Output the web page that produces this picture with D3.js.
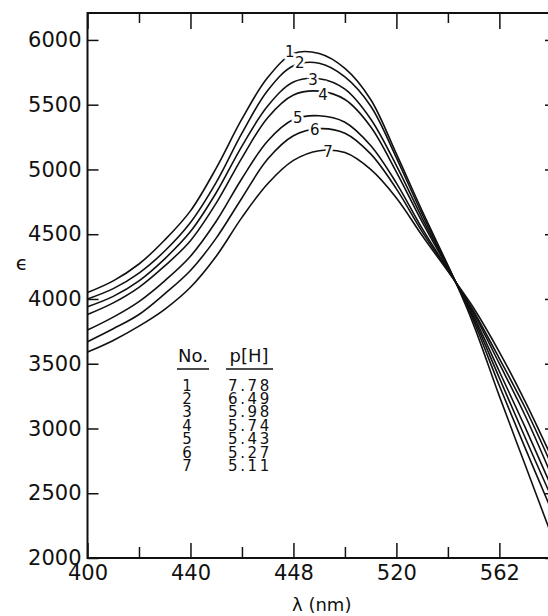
<!DOCTYPE html>
<html>
<head>
<meta charset="utf-8">
<script src="https://cdn.jsdelivr.net/npm/d3@7"></script>
<style>
  body { margin: 0; background: #fff; }
  text { font-family: "DejaVu Sans", sans-serif; fill: #111; }
</style>
</head>
<body>
<div class="chart"></div>
<script>
// wavelengths (nm) at which the curves were read
const lambda = [400, 410, 420, 430, 440, 450, 460, 470, 480, 490, 500, 510, 520, 530, 543, 550, 560, 570, 580];
// epsilon values for the 7 curves
const curve1 = [4050, 4140, 4270, 4455, 4680, 5010, 5390, 5710, 5895, 5895, 5780, 5540, 5120, 4680, 4131, 3800, 3250, 2720, 2190];
const curve2 = [4000, 4080, 4200, 4370, 4590, 4900, 5280, 5610, 5800, 5820, 5715, 5490, 5090, 4655, 4131, 3830, 3330, 2850, 2380];
const curve3 = [3940, 4020, 4140, 4310, 4520, 4820, 5180, 5490, 5675, 5700, 5620, 5390, 5030, 4625, 4131, 3850, 3390, 2930, 2480];
const curve4 = [3880, 3970, 4090, 4255, 4450, 4740, 5090, 5400, 5575, 5605, 5540, 5330, 4980, 4595, 4131, 3870, 3440, 3010, 2560];
const curve5 = [3760, 3860, 3980, 4140, 4330, 4600, 4930, 5220, 5385, 5415, 5365, 5185, 4895, 4545, 4131, 3890, 3500, 3100, 2650];
const curve6 = [3670, 3770, 3880, 4040, 4220, 4470, 4780, 5080, 5260, 5315, 5280, 5120, 4850, 4520, 4131, 3905, 3540, 3160, 2730];
const curve7 = [3590, 3680, 3790, 3920, 4090, 4330, 4630, 4890, 5070, 5145, 5130, 5000, 4780, 4490, 4131, 3930, 3590, 3210, 2790];
const curves = [curve1, curve2, curve3, curve4, curve5, curve6, curve7];

// where the curve numbers sit
const labelNo = ["1", "2", "3", "4", "5", "6", "7"];
const labelLambda = [478.6, 482.5, 487.6, 491.5, 481.7, 488.3, 493.4];
const labelEps = [5910, 5822, 5691, 5575, 5398, 5305, 5135];

// legend table
const tableNo = ["1", "2", "3", "4", "5", "6", "7"];
const tablePH = ["7.78", "6.49", "5.98", "5.74", "5.43", "5.27", "5.11"];

// axis ticks (printed labels as in the figure)
const xMajor = [400, 440, 480, 520, 560, 580];
const xMinor = [420, 460, 500, 540];
const xTickLabels = ["400", "440", "448", "520", "562", ""];
const yTicks = [2000, 2500, 3000, 3500, 4000, 4500, 5000, 5500, 6000];

const W = 548, H = 616;
const plotL = 87.5, plotR = 556, plotT = 13, plotB = 558;

const x = d3.scaleLinear().domain([400, 582]).range([plotL, plotR]);
const y = d3.scaleLinear().domain([2000, 6208]).range([plotB, plotT]);

const svg = d3.select(".chart").append("svg")
    .attr("width", W)
    .attr("height", H);

// frame
svg.append("rect")
    .attr("x", plotL).attr("y", plotT)
    .attr("width", plotR - plotL).attr("height", plotB - plotT)
    .attr("fill", "none").attr("stroke", "#111").attr("stroke-width", 2);

// bottom axis
const xAxis = d3.axisBottom(x).tickValues(xMajor).tickSize(-15).tickSizeOuter(0).tickPadding(7)
    .tickFormat((d, i) => xTickLabels[i]);
const gx = svg.append("g").attr("transform", `translate(0,${plotB})`).call(xAxis);
gx.select(".domain").remove();
gx.selectAll("text").style("font-size", "21px");
svg.append("g").attr("transform", `translate(0,${plotB})`)
    .call(d3.axisBottom(x).tickValues(xMinor).tickSize(-11).tickFormat(""))
    .select(".domain").remove();

// top axis
svg.append("g").attr("transform", `translate(0,${plotT})`)
    .call(d3.axisTop(x).tickValues(xMajor).tickSize(-16).tickFormat(""))
    .select(".domain").remove();
svg.append("g").attr("transform", `translate(0,${plotT})`)
    .call(d3.axisTop(x).tickValues(xMinor).tickSize(-10).tickFormat(""))
    .select(".domain").remove();

// left axis
const gy = svg.append("g").attr("transform", `translate(${plotL},0)`)
    .call(d3.axisLeft(y).tickValues(yTicks).tickSize(-11).tickPadding(6).tickFormat(d3.format("d")));
gy.select(".domain").remove();
gy.selectAll("text").style("font-size", "21px");

// right axis
svg.append("g").attr("transform", `translate(${plotR},0)`)
    .call(d3.axisRight(y).tickValues(yTicks).tickSize(-11).tickFormat(""))
    .select(".domain").remove();

svg.selectAll(".tick line").attr("stroke", "#111").attr("stroke-width", 1.5);

// curves
const line = d3.line()
    .x((d, i) => x(lambda[i]))
    .y(d => y(d))
    .curve(d3.curveCatmullRom);

svg.append("g")
    .selectAll("path")
    .data(curves)
    .join("path")
    .attr("d", line)
    .attr("fill", "none")
    .attr("stroke", "#111")
    .attr("stroke-width", 1.6);

// curve numbers
svg.append("g")
    .selectAll("text")
    .data(labelNo)
    .join("text")
    .attr("x", (d, i) => x(labelLambda[i]))
    .attr("y", (d, i) => y(labelEps[i]))
    .attr("dy", "0.36em")
    .attr("text-anchor", "middle")
    .style("font-size", "15px")
    .style("paint-order", "stroke")
    .attr("stroke", "#fff")
    .attr("stroke-width", 5)
    .text(d => d);

// legend table
const lg = svg.append("g");
lg.append("text").attr("x", 193).attr("y", 362).attr("text-anchor", "middle")
    .style("font-size", "18px").text("No.");
lg.append("text").attr("x", 249).attr("y", 362).attr("text-anchor", "middle")
    .style("font-size", "18px").text("p[H]");
lg.append("line").attr("x1", 177).attr("x2", 209).attr("y1", 369).attr("y2", 369)
    .attr("stroke", "#111").attr("stroke-width", 1.5);
lg.append("line").attr("x1", 226).attr("x2", 273).attr("y1", 369).attr("y2", 369)
    .attr("stroke", "#111").attr("stroke-width", 1.5);
lg.selectAll(".no")
    .data(tableNo)
    .join("text")
    .attr("class", "no")
    .attr("x", 187)
    .attr("y", (d, i) => 390.5 + i * 13.4)
    .attr("text-anchor", "middle")
    .style("font-size", "15px")
    .text(d => d);
lg.selectAll(".ph")
    .data(tablePH)
    .join("text")
    .attr("class", "ph")
    .attr("x", 228)
    .attr("y", (d, i) => 390.5 + i * 13.4)
    .style("font-size", "15px")
    .style("letter-spacing", "2.6px")
    .text(d => d);

// axis titles
svg.append("text")
    .attr("x", (plotL + plotR) / 2)
    .attr("y", 611)
    .attr("text-anchor", "middle")
    .style("font-size", "18px")
    .text("λ (nm)");

svg.append("text")
    .attr("x", 22)
    .attr("y", 270)
    .attr("text-anchor", "middle")
    .style("font-size", "20px")
    .text("ϵ");
</script>
</body>
</html>
